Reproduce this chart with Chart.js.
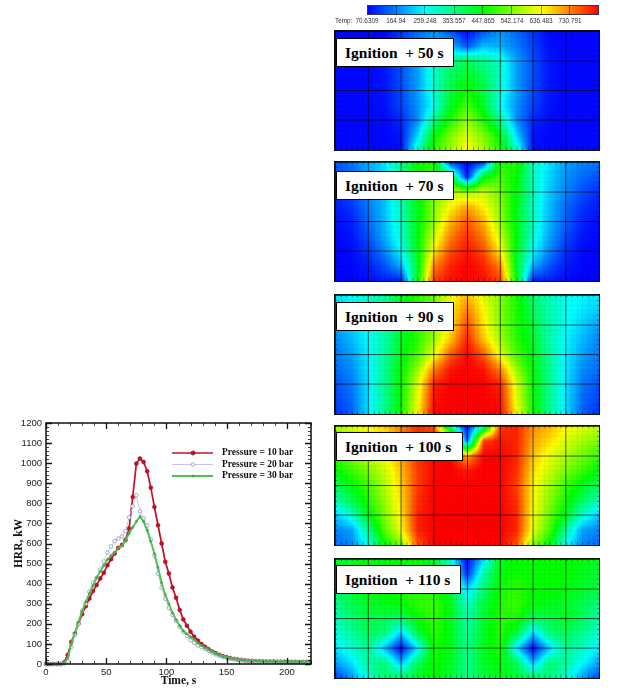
<!DOCTYPE html>
<html>
<head>
<meta charset="utf-8">
<title>HRR and temperature</title>
<script src="https://cdn.jsdelivr.net/npm/chart.js@4"></script>
<style>
  body { margin: 0; background: #fff; width: 618px; height: 699px; position: relative; overflow: hidden; }
  canvas { position: absolute; display: block; }
  .heat { border: 1px solid #111; }
  .tag {
    position: absolute; box-sizing: border-box; height: 29px; padding-left: 8px;
    background: #fff; border: 1px solid #000; white-space: pre; color: #000;
    font: bold 15.5px/27px "Liberation Serif", serif;
  }
</style>
</head>
<body>
<canvas id="hrr" width="330" height="289" style="left:0;top:410px"></canvas>
<canvas id="bar" width="288" height="30" style="left:330px;top:0"></canvas>
<script>
// line chart
const times = [0,3,6,9,12,15,18,21,24,27,30,33,36,39,42,45,48,51,54,57,60,63,66,69,72,75,78,81,84,87,90,93,96,99,102,105,108,111,114,117,120,123,126,129,132,135,138,141,144,147,150,153,156,159,162,165,168,171,174,177,180,183,186,189,192,195,198,201,204,207,210,213,216,219];
const pressure10 = [0,0,0,0,0,8,45,110,152,202,248,288,326,363,393,426,454,492,522,550,578,592,617,675,832,998,1023,1006,960,878,782,691,600,509,451,381,330,269,222,191,161,136,117,100,86,73,62,53,45,38,33,29,25,22,20,18,16,15,14,13,13,12,12,12,11,11,11,11,10,10,10,10,10,10];
const pressure20 = [0,0,0,0,0,2,12,85,145,200,265,300,360,405,430,470,510,555,585,612,625,635,662,730,785,840,760,725,690,620,540,450,380,325,280,245,215,185,160,140,118,105,92,83,75,66,57,48,41,35,30,26,23,20,18,16,15,14,13,12,12,12,11,11,11,11,10,10,10,10,10,10,10,10];
const pressure30 = [0,0,0,0,0,3,30,100,155,210,262,310,350,390,430,460,490,520,540,555,575,590,615,650,680,710,735,710,665,610,550,480,405,345,300,255,220,190,165,150,135,122,105,92,80,70,60,50,43,37,32,28,25,22,20,18,17,16,15,14,14,13,13,12,12,12,12,12,12,12,12,12,12,12];
const seriesNames = ["Pressure = 10 bar", "Pressure = 20 bar", "Pressure = 30 bar"];
const timeTicks = [0, 50, 100, 150, 200];

// colour bar
const tempTicks = [70.6309, 164.94, 259.248, 353.557, 447.865, 542.174, 636.483, 730.791];
const tempMin = 70.6309;
const tempMax = 825.1;

// temperature panels, top row first
const panelTitles = ["Ignition  + 50 s", "Ignition  + 70 s", "Ignition  + 90 s", "Ignition  + 100 s", "Ignition  + 110 s"];
const temp50 = [
  [75,75,75,75,110,150,185,130,75,130,185,150,110,75,75,75,75],
  [75,75,75,80,120,165,200,210,130,210,200,165,120,80,75,75,75],
  [75,75,75,85,130,190,290,340,380,340,290,190,130,85,75,75,75],
  [75,75,75,85,130,190,300,380,420,380,300,190,130,85,75,75,75],
  [75,75,75,85,125,190,290,400,460,400,290,190,125,85,75,75,75],
  [75,75,75,82,120,180,270,420,500,420,270,180,120,82,75,75,75],
  [75,75,75,78,100,175,340,470,560,470,340,175,100,78,75,75,75],
  [75,75,75,75,85,230,440,540,610,540,440,230,85,75,75,75,75],
  [75,75,75,75,80,300,480,570,640,570,480,300,80,75,75,75,75],
];
const temp70 = [
  [135,155,200,240,340,450,470,100,72,100,470,470,300,240,190,170,160],
  [125,150,190,230,330,440,500,430,80,430,500,450,300,230,180,150,130],
  [105,130,175,220,320,430,530,600,560,600,530,440,310,220,170,130,105],
  [90,110,160,215,310,430,550,640,700,640,550,430,300,210,150,110,90],
  [80,95,150,210,300,430,560,690,760,690,560,430,300,205,145,95,80],
  [75,85,130,200,290,440,600,730,790,730,600,440,290,195,125,85,75],
  [72,78,110,170,260,430,650,770,810,770,650,430,260,170,105,78,72],
  [72,75,90,130,200,420,730,800,825,800,730,420,200,130,90,75,72],
  [72,72,78,95,90,440,780,815,825,815,780,440,90,95,78,72,72],
];
const temp90 = [
  [240,265,300,340,420,470,530,620,690,610,550,470,360,310,270,255,245],
  [220,245,280,330,420,470,540,640,730,640,540,470,380,320,270,245,225],
  [190,225,265,320,410,470,550,650,770,650,550,470,400,320,265,225,190],
  [170,210,260,320,420,480,570,680,800,680,570,480,410,320,255,210,170],
  [160,190,250,330,430,500,620,760,825,760,620,500,430,330,250,190,160],
  [150,175,245,340,440,560,730,810,825,810,730,560,440,340,245,175,150],
  [130,160,240,340,450,610,800,825,825,825,800,610,450,340,240,160,130],
  [120,150,240,340,450,620,815,825,825,825,815,620,450,340,240,150,120],
  [105,140,240,340,460,640,825,825,825,825,825,640,460,340,240,140,105],
];
const temp100 = [
  [570,610,640,670,730,790,760,300,75,300,780,800,720,690,640,620,590],
  [530,570,610,650,720,800,810,780,120,780,810,800,700,660,610,570,540],
  [480,530,580,630,700,790,820,825,700,825,825,800,680,620,580,530,490],
  [440,490,540,600,680,780,820,825,810,825,825,790,660,600,540,490,440],
  [380,440,500,580,670,780,825,825,825,825,825,780,640,570,490,430,370],
  [320,390,470,560,660,790,825,825,825,825,825,790,640,550,460,380,310],
  [220,290,430,540,650,800,825,825,825,825,825,800,630,530,420,290,220],
  [170,190,340,510,630,800,825,825,825,825,825,800,620,500,330,190,170],
  [150,170,270,440,540,760,825,825,825,825,825,760,550,440,260,170,150],
];
const temp110 = [
  [420,430,440,440,450,450,420,280,75,230,430,450,450,450,450,440,430],
  [400,420,440,450,460,470,440,350,100,320,440,460,450,450,450,430,410],
  [370,410,440,450,470,480,470,400,230,360,460,480,450,450,440,420,390],
  [340,390,420,430,450,480,490,430,300,400,470,490,440,430,420,390,350],
  [310,360,400,390,370,450,490,430,320,410,480,470,380,400,420,380,320],
  [280,330,380,360,220,400,480,430,330,420,480,400,220,360,380,340,285],
  [240,290,340,210,75,240,470,430,340,420,480,240,75,220,340,300,250],
  [190,240,330,360,210,380,460,420,340,420,450,380,210,360,330,260,190],
  [110,180,290,370,380,420,450,410,340,400,430,410,380,360,290,190,120],
];
const panelGrids = [temp50, temp70, temp90, temp100, temp110];

const panelTops = [30, 161, 294, 425, 558];
const tagBoxes = [[38, 118], [171, 118], [302, 118], [432, 127], [565, 125]];

// blue - cyan - green - yellow - red over the temp range
function tempColor(v) {
  let t = (v - tempMin) / (tempMax - tempMin) * 4;
  t = Math.max(0, Math.min(4, t));
  if (t < 1) return [0, 255 * t, 255];
  if (t < 2) return [0, 255, 255 * (2 - t)];
  if (t < 3) return [255 * (t - 2), 255, 0];
  return [255, 255 * (4 - t), 0];
}

// shade the panel from its node values, going through the chart scales
const heatPlugin = {
  id: "heat",
  beforeDraw(chart) {
    const { ctx, chartArea: a, scales: { x, y } } = chart;
    const pts = chart.data.datasets[0].data;
    const w = Math.round(a.right - a.left), h = Math.round(a.bottom - a.top);
    const img = ctx.createImageData(w, h);
    for (let py = 0; py < h; py++) {
      const fy = Math.max(0, Math.min(7.999, y.getValueForPixel(a.top + py + 0.5)));
      const j = Math.floor(fy), dy = fy - j;
      for (let px = 0; px < w; px++) {
        const fx = Math.max(0, Math.min(15.999, x.getValueForPixel(a.left + px + 0.5)));
        const i = Math.floor(fx), dx = fx - i;
        const v00 = pts[j * 17 + i].v, v10 = pts[j * 17 + i + 1].v;
        const v01 = pts[(j + 1) * 17 + i].v, v11 = pts[(j + 1) * 17 + i + 1].v;
        const v = (v00 * (1 - dx) + v10 * dx) * (1 - dy) + (v01 * (1 - dx) + v11 * dx) * dy;
        const c = tempColor(v);
        const k = (py * w + px) * 4;
        img.data[k] = c[0]; img.data[k + 1] = c[1]; img.data[k + 2] = c[2]; img.data[k + 3] = 255;
      }
    }
    ctx.putImageData(img, Math.round(a.left), Math.round(a.top));

    // faint solver mesh, stronger near the edges
    ctx.save();
    ctx.lineWidth = 1;
    for (let n = 1; n < 48; n++) {
      const px = Math.round(x.getPixelForValue(n / 3)) + 0.5;
      ctx.strokeStyle = "rgba(0,0,0,0.04)";
      ctx.beginPath(); ctx.moveTo(px, a.top); ctx.lineTo(px, a.bottom); ctx.stroke();
      ctx.strokeStyle = "rgba(0,0,0,0.35)";
      ctx.beginPath(); ctx.moveTo(px, a.bottom - 3); ctx.lineTo(px, a.bottom); ctx.moveTo(px, a.top); ctx.lineTo(px, a.top + 2); ctx.stroke();
    }
    for (let n = 1; n < 24; n++) {
      const py = Math.round(y.getPixelForValue(n / 3)) + 0.5;
      ctx.strokeStyle = "rgba(0,0,0,0.04)";
      ctx.beginPath(); ctx.moveTo(a.left, py); ctx.lineTo(a.right, py); ctx.stroke();
      ctx.strokeStyle = "rgba(0,0,0,0.35)";
      ctx.beginPath(); ctx.moveTo(a.left, py); ctx.lineTo(a.left + 2, py); ctx.moveTo(a.right - 2, py); ctx.lineTo(a.right, py); ctx.stroke();
    }
    ctx.restore();
  },
};

panelGrids.forEach((grid, p) => {
  const cv = document.createElement("canvas");
  cv.className = "heat";
  cv.width = 266; cv.height = 121;
  cv.style.left = "334px";
  cv.style.top = panelTops[p] + "px";
  document.body.appendChild(cv);

  new Chart(cv, {
    type: "scatter",
    data: {
      datasets: [{
        label: panelTitles[p],
        data: grid.flatMap((row, j) => row.map((v, i) => ({ x: i, y: j, v }))),
        pointRadius: 0,
      }],
    },
    options: {
      responsive: false,
      animation: false,
      layout: { padding: 0 },
      plugins: { legend: { display: false }, tooltip: { enabled: false } },
      scales: {
        x: {
          type: "linear", min: 0, max: 16,
          afterFit: (s) => { s.height = 0; },
          ticks: { stepSize: 2, display: false },
          grid: { color: "rgba(0,0,0,0.65)", drawTicks: false },
          border: { display: false },
        },
        y: {
          type: "linear", min: 0, max: 8, reverse: true,
          afterFit: (s) => { s.width = 0; },
          ticks: { stepSize: 2, display: false },
          grid: { color: "rgba(0,0,0,0.65)", drawTicks: false },
          border: { display: false },
        },
      },
    },
    plugins: [heatPlugin],
  });

  const tag = document.createElement("div");
  tag.className = "tag";
  tag.textContent = panelTitles[p];
  tag.style.left = "336px";
  tag.style.top = tagBoxes[p][0] + "px";
  tag.style.width = tagBoxes[p][1] + "px";
  document.body.appendChild(tag);
});

// colour bar
new Chart(document.getElementById("bar"), {
  type: "scatter",
  data: { datasets: [{ data: [], pointRadius: 0 }] },
  options: {
    responsive: false,
    animation: false,
    layout: { padding: { left: 37, right: 19, top: 5, bottom: 0 } },
    plugins: { legend: { display: false }, tooltip: { enabled: false } },
    scales: {
      x: {
        type: "linear", min: tempMin, max: tempMax,
        afterBuildTicks: (s) => { s.ticks = tempTicks.map((v) => ({ value: v })); },
        afterFit: (s) => { s.height = 15; },
        ticks: {
          callback: (v) => String(v), autoSkip: false, maxRotation: 0, padding: 2,
          color: "#333", font: { family: "Liberation Sans", size: 6.4 },
        },
        grid: { color: "rgba(0,0,0,0.45)", drawTicks: false },
        border: { display: false },
      },
      y: { display: false, min: 0, max: 1 },
    },
  },
  plugins: [{
    id: "bar",
    beforeDraw(chart) {
      const { ctx, chartArea: a, scales: { x } } = chart;
      for (let px = Math.round(a.left); px < a.right; px++) {
        const c = tempColor(x.getValueForPixel(px + 0.5));
        ctx.fillStyle = `rgb(${c[0]},${c[1]},${c[2]})`;
        ctx.fillRect(px, a.top, 1, a.bottom - a.top);
      }
    },
    afterDraw(chart) {
      const { ctx, chartArea: a } = chart;
      ctx.save();
      ctx.font = '6.4px "Liberation Sans"';
      ctx.fillStyle = "#333";
      ctx.textBaseline = "middle";
      ctx.fillText("Temp:", 5, 21);
      ctx.strokeStyle = "#334";
      ctx.strokeRect(a.left + 0.5, a.top + 0.5, a.right - a.left - 1, a.bottom - a.top - 1);
      ctx.restore();
    },
  }],
});

// HRR chart
const toPoints = (vals) => vals.map((v, i) => ({ x: times[i], y: v }));

// inward ticks on all four sides, frame and the legend inside the plot
const framePlugin = {
  id: "frame",
  afterDraw(chart) {
    const { ctx, chartArea: a, scales: { x, y } } = chart;
    ctx.save();
    ctx.strokeStyle = "#111";
    for (let t = 0; t <= 220; t += 10) {
      const px = Math.round(x.getPixelForValue(t)) + 0.5;
      const len = t % 50 === 0 ? 6 : 3;
      ctx.lineWidth = t % 50 === 0 ? 1.3 : 0.8;
      ctx.beginPath();
      ctx.moveTo(px, a.bottom); ctx.lineTo(px, a.bottom - len);
      ctx.moveTo(px, a.top); ctx.lineTo(px, a.top + len);
      ctx.stroke();
    }
    for (let v = 0; v <= 1200; v += 20) {
      const py = Math.round(y.getPixelForValue(v)) + 0.5;
      const len = v % 100 === 0 ? 6 : 3;
      ctx.lineWidth = v % 100 === 0 ? 1.3 : 0.8;
      ctx.beginPath();
      ctx.moveTo(a.left, py); ctx.lineTo(a.left + len, py);
      ctx.moveTo(a.right, py); ctx.lineTo(a.right - len, py);
      ctx.stroke();
    }
    ctx.lineWidth = 1.5;
    ctx.strokeRect(a.left, a.top, a.right - a.left, a.bottom - a.top);

    // legend
    ctx.font = 'bold 9.5px "Liberation Serif"';
    ctx.textBaseline = "middle";
    const rows = [43, 54.5, 66];
    chart.data.datasets.forEach((ds, i) => {
      const ly = rows[i];
      ctx.strokeStyle = ds.borderColor;
      ctx.lineWidth = ds.borderWidth;
      ctx.beginPath(); ctx.moveTo(172, ly); ctx.lineTo(213, ly); ctx.stroke();
      ctx.beginPath(); ctx.arc(193, ly, ds.pointRadius, 0, Math.PI * 2);
      ctx.fillStyle = ds.pointBackgroundColor; ctx.fill();
      ctx.strokeStyle = ds.pointBorderColor; ctx.lineWidth = 0.8; ctx.stroke();
      ctx.fillStyle = "#111";
      ctx.fillText(ds.label, 222, ly);
    });
    ctx.restore();
  },
};

new Chart(document.getElementById("hrr"), {
  type: "scatter",
  data: {
    datasets: [
      {
        label: seriesNames[0], data: toPoints(pressure10), showLine: true, order: 3, clip: false,
        borderColor: "#c0102a", borderWidth: 1.7,
        pointRadius: 2, pointBackgroundColor: "#c0102a", pointBorderColor: "#a00818", pointBorderWidth: 0.5,
      },
      {
        label: seriesNames[1], data: toPoints(pressure20), showLine: true, order: 2, clip: false,
        borderColor: "#bcb4dc", borderWidth: 0.8,
        pointRadius: 1.8, pointBackgroundColor: "#ffffff", pointBorderColor: "#8f90c4", pointBorderWidth: 0.8,
      },
      {
        label: seriesNames[2], data: toPoints(pressure30), showLine: true, order: 1, clip: false,
        borderColor: "#52c152", borderWidth: 1.9,
        pointRadius: 1.1, pointBackgroundColor: "#3fa84a", pointBorderColor: "#3fa84a", pointBorderWidth: 0.5,
      },
    ],
  },
  options: {
    responsive: false,
    animation: false,
    layout: { padding: { left: 0, top: 13, right: 19, bottom: 11 } },
    plugins: { legend: { display: false }, tooltip: { enabled: false } },
    scales: {
      x: {
        type: "linear", min: 0, max: 220,
        afterBuildTicks: (s) => { s.ticks = timeTicks.map((v) => ({ value: v })); },
        afterFit: (s) => { s.height = 24; },
        grid: { display: false, drawTicks: false },
        border: { display: false },
        ticks: { padding: 3, autoSkip: false, maxRotation: 0, color: "#222", font: { family: "Liberation Sans", size: 9.5 } },
        title: {
          display: true, text: "Time, s", color: "#111", padding: { top: 0, bottom: 0 },
          font: { family: "Liberation Serif", weight: "bold", size: 11.5 },
        },
      },
      y: {
        type: "linear", min: 0, max: 1200,
        afterFit: (s) => { s.width = 46; },
        grid: { display: false, drawTicks: false },
        border: { display: false },
        ticks: { stepSize: 100, padding: 4, callback: (v) => String(v), color: "#222", font: { family: "Liberation Sans", size: 9.5 } },
        title: {
          display: true, text: "HRR, kW", color: "#111", padding: { top: 12, bottom: 0 },
          font: { family: "Liberation Serif", weight: "bold", size: 11.5 },
        },
      },
    },
  },
  plugins: [framePlugin],
});
</script>
</body>
</html>
